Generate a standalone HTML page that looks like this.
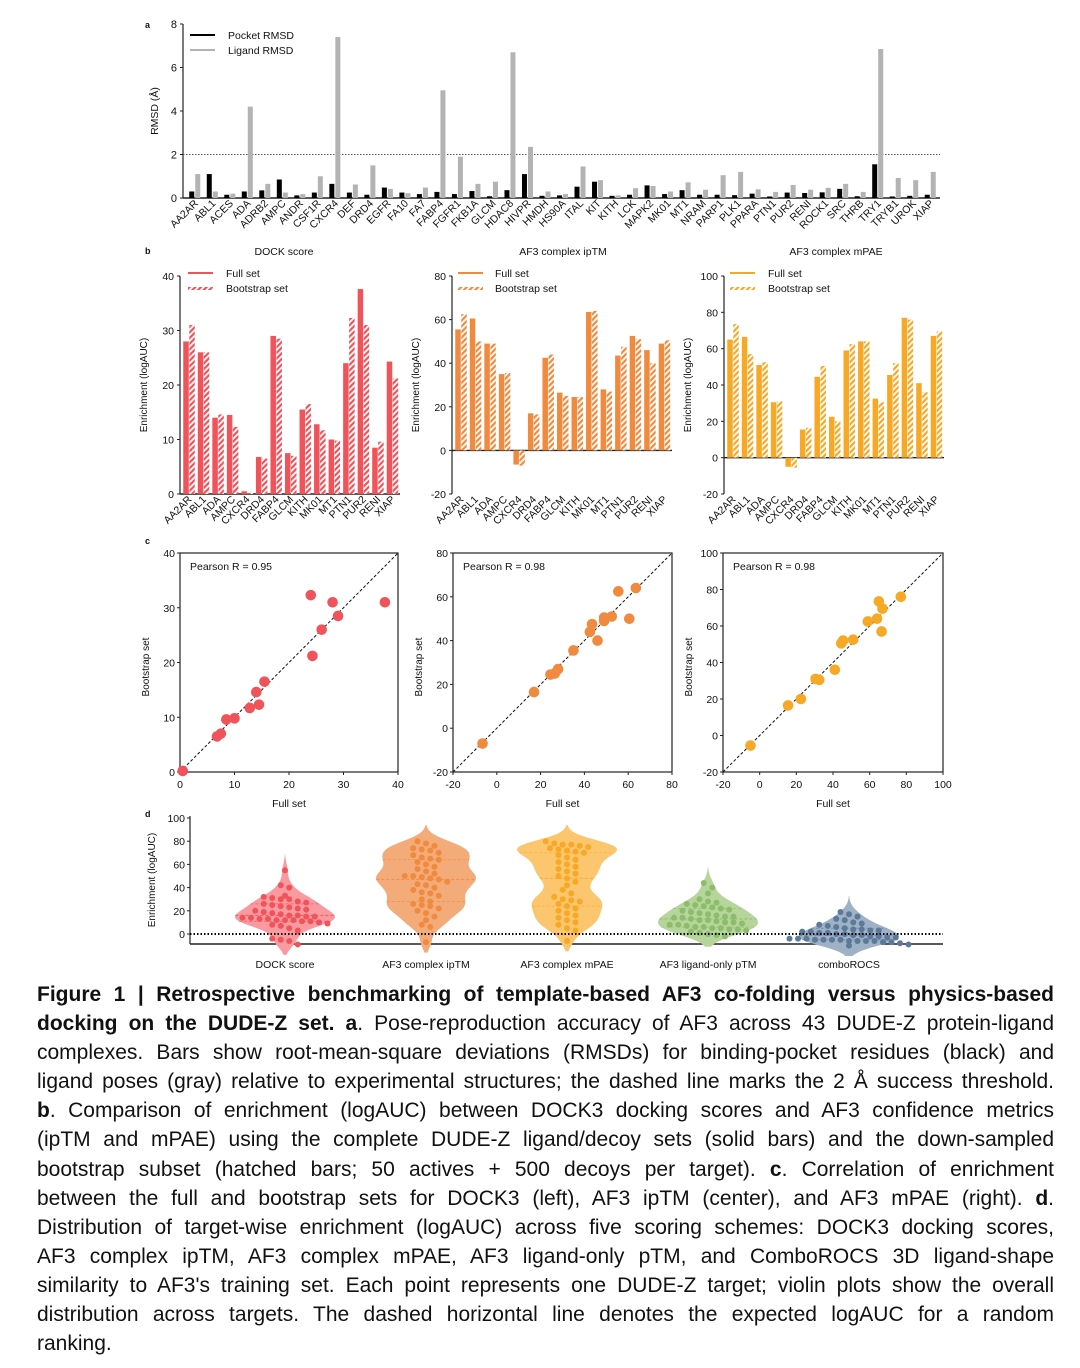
<!DOCTYPE html>
<html><head><meta charset="utf-8">
<style>
html,body{margin:0;padding:0;background:#fff;}
body{width:1080px;height:1368px;position:relative;overflow:hidden;font-family:"Liberation Sans",Arial,sans-serif;}
#fig{position:absolute;left:0;top:0;}
#cap{position:absolute;left:37px;top:980px;width:1017px;font-size:21px;line-height:29.1px;color:#111;}
#cap div{white-space:nowrap;text-align:justify;text-align-last:justify;}
#cap div.last{text-align-last:left;}
svg text{font-family:"Liberation Sans",Arial,sans-serif;fill:#111;}
</style></head>
<body>
<svg id="fig" width="1080" height="980">
<defs>
<pattern id="hatch-red" width="4" height="4" patternUnits="userSpaceOnUse" patternTransform="rotate(45)"><rect width="4" height="4" fill="#fff"/><rect width="2.2" height="4" fill="#f0535a"/></pattern>
<pattern id="hatch-orange" width="4" height="4" patternUnits="userSpaceOnUse" patternTransform="rotate(45)"><rect width="4" height="4" fill="#fff"/><rect width="2.2" height="4" fill="#f08a3e"/></pattern>
<pattern id="hatch-amber" width="4" height="4" patternUnits="userSpaceOnUse" patternTransform="rotate(45)"><rect width="4" height="4" fill="#fff"/><rect width="2.2" height="4" fill="#f7a825"/></pattern>
</defs>
</svg>
<div id="cap">
<div><b>Figure 1 | Retrospective benchmarking of template-based AF3 co-folding versus physics-based</b></div>
<div><b>docking on the DUDE-Z set. a</b>. Pose-reproduction accuracy of AF3 across 43 DUDE-Z protein-ligand</div>
<div>complexes. Bars show root-mean-square deviations (RMSDs) for binding-pocket residues (black) and</div>
<div>ligand poses (gray) relative to experimental structures; the dashed line marks the 2 Å success threshold.</div>
<div><b>b</b>. Comparison of enrichment (logAUC) between DOCK3 docking scores and AF3 confidence metrics</div>
<div>(ipTM and mPAE) using the complete DUDE-Z ligand/decoy sets (solid bars) and the down-sampled</div>
<div>bootstrap subset (hatched bars; 50 actives + 500 decoys per target). <b>c</b>. Correlation of enrichment</div>
<div>between the full and bootstrap sets for DOCK3 (left), AF3 ipTM (center), and AF3 mPAE (right). <b>d</b>.</div>
<div>Distribution of target-wise enrichment (logAUC) across five scoring schemes: DOCK3 docking scores,</div>
<div>AF3 complex ipTM, AF3 complex mPAE, AF3 ligand-only pTM, and ComboROCS 3D ligand-shape</div>
<div>similarity to AF3's training set. Each point represents one DUDE-Z target; violin plots show the overall</div>
<div>distribution across targets. The dashed horizontal line denotes the expected logAUC for a random</div>
<div class="last">ranking.</div>
</div>
<script>
// ---- Panel a data ----
const rmsdTargets = ["AA2AR","ABL1","ACES","ADA","ADRB2","AMPC","ANDR","CSF1R","CXCR4","DEF","DRD4","EGFR","FA10","FA7","FABP4","FGFR1","FKB1A","GLCM","HDAC8","HIVPR","HMDH","HS90A","ITAL","KIT","KITH","LCK","MAPK2","MK01","MT1","NRAM","PARP1","PLK1","PPARA","PTN1","PUR2","RENI","ROCK1","SRC","THRB","TRY1","TRYB1","UROK","XIAP"];
const pocketRmsd = [0.3,1.1,0.15,0.3,0.35,0.85,0.12,0.25,0.65,0.25,0.15,0.48,0.25,0.18,0.28,0.18,0.32,0.08,0.36,1.1,0.1,0.12,0.52,0.75,0.1,0.15,0.58,0.18,0.36,0.15,0.15,0.13,0.2,0.07,0.25,0.23,0.26,0.42,0.08,1.55,0.07,0.1,0.15];
const ligandRmsd = [1.1,0.3,0.2,4.2,0.65,0.25,0.18,1.0,7.4,0.62,1.5,0.42,0.22,0.48,4.95,1.9,0.65,0.75,6.7,2.35,0.3,0.18,1.45,0.82,0.12,0.45,0.55,0.3,0.72,0.38,1.05,1.2,0.4,0.28,0.6,0.38,0.47,0.65,0.28,6.85,0.92,0.82,1.2];
const rmsdTicks = [0,2,4,6,8];
// ---- Panel b/c data ----
const enrTargets = ["AA2AR","ABL1","ADA","AMPC","CXCR4","DRD4","FABP4","GLCM","KITH","MK01","MT1","PTN1","PUR2","RENI","XIAP"];
const dockFull = [28,26,14,14.5,0.5,6.8,29,7.5,15.5,12.8,10,24,37.6,8.5,24.3];
const dockBoot = [31,26,14.6,12.3,0.2,6.5,28.5,7,16.5,11.7,9.8,32.3,31,9.6,21.2];
const iptmFull = [55.5,60.5,49,35,-6.5,17,42.5,26.5,24.5,63.5,28,43.5,52.5,46,49];
const iptmBoot = [62.5,50,49,35.5,-7,16.5,44,25,24.5,64,27,47.5,51,40,50.5];
const mpaeFull = [65,66.5,51,30.5,-5,15.5,44.5,22.5,59,64,32.5,45.5,77,41,67];
const mpaeBoot = [73.5,57,52.5,31,-5.5,16.5,50.5,20,62.5,64,30.5,52,76,36,69.5];
const dockTicks = [0,10,20,30,40];
const iptmTicks = [-20,0,20,40,60,80];
const mpaeTicks = [-20,0,20,40,60,80,100];
const pearsonLabels = ["Pearson R = 0.95","Pearson R = 0.98","Pearson R = 0.98"];
// ---- Panel d data ----
const violinGroups = ["DOCK score","AF3 complex ipTM","AF3 complex mPAE","AF3 ligand-only pTM","comboROCS"];
const dockDist = [55,42,40,33,32,31,30,30,28,27,26,25,24,23,22,21,20,19,18,17,16,16,15,15,14,14,13,13,12,12,12,11,11,10,9,8,7,5,3,-4,-5,-6,-9];
const iptmDist = [80,78,76,74,73,72,70,68,66,65,64,62,60,58,56,54,52,50,50,49,48,47,45,43,42,40,38,36,35,33,30,28,26,25,24,22,20,18,15,12,8,6,-7];
const mpaeDist = [80,78,77,77,76,75,74,73,72,71,70,68,66,64,62,60,58,56,54,52,50,48,45,42,38,35,32,30,29,28,26,24,22,20,18,16,14,12,10,8,5,3,-6];
const ptmDist = [44,40,35,30,28,27,26,25,24,23,22,21,20,19,18,17,16,15,15,14,14,13,12,12,11,10,10,9,8,8,7,6,6,5,5,4,4,3,2,1,0,-1,-2];
const rocsDist = [19,17,15,13,12,10,9,8,7,6,5,4,4,3,3,2,2,1,1,0,0,-1,-1,-2,-2,-3,-3,-4,-4,-4,-5,-5,-5,-5,-6,-6,-6,-6,-7,-7,-8,-9,-10];
const violinTicks = [0,20,40,60,80,100];

const svg = document.getElementById('fig');
const NS = 'http://www.w3.org/2000/svg';
function mk(tag, attrs, parent, text){
  const e = document.createElementNS(NS, tag);
  for (const k in attrs) e.setAttribute(k, attrs[k]);
  if (text !== undefined) e.textContent = text;
  (parent || svg).appendChild(e);
  return e;
}
function lin(d0,d1,r0,r1){ return v => r0 + (v-d0)/(d1-d0)*(r1-r0); }

[["a",145,28],["b",145,254],["c",145,544],["d",145,817]].forEach(p=>{
  const t = mk('text',{x:p[1],y:p[2],'font-size':9,'font-weight':'bold'},svg,p[0]);
  
  
});

// ===== Panel a =====
(function(){
  const g = mk('g',{});
  
  
  const x0 = 183, x1 = 940;
  const y = lin(0,8,198,24);
  const step = (x1 - x0 - 4) / rmsdTargets.length;
  mk('line',{x1:x0,y1:24,x2:x0,y2:198,stroke:'#222','stroke-width':1.2},g);
  mk('line',{x1:x0,y1:198,x2:x1,y2:198,stroke:'#222','stroke-width':1.4},g);
  rmsdTicks.forEach(t=>{
    mk('line',{x1:x0-3,y1:y(t),x2:x0,y2:y(t),stroke:'#222'},g);
    const tl = mk('text',{x:x0-6,y:y(t)+4,'font-size':11,'text-anchor':'end'},g,t);
    
    
  });
  const yt = mk('text',{x:158,y:111,'font-size':10.5,'text-anchor':'middle',transform:'rotate(-90 158 111)'},g,'RMSD (Å)');
  
  
  const thr = mk('line',{x1:x0,y1:y(2),x2:x1,y2:y(2),stroke:'#555','stroke-width':1,'stroke-dasharray':'1.5,1.5'},g);
  
  
  rmsdTargets.forEach((c,i)=>{
    const cx = x0 + 3 + step*(i+0.5);
    const b1 = mk('rect',{x:cx-5.5,y:y(pocketRmsd[i]),width:5,height:198-y(pocketRmsd[i]),fill:'#000'},g);
    
    
    const b2 = mk('rect',{x:cx+0.5,y:y(ligandRmsd[i]),width:5,height:198-y(ligandRmsd[i]),fill:'#b3b3b3'},g);
    
    
    const lx = cx+4, ly = 204;
    const l = mk('text',{x:lx,y:ly,'font-size':10.5,'text-anchor':'end',transform:`rotate(-45 ${lx} ${ly})`},g,c);
    
    
  });
  mk('line',{x1:190,y1:35,x2:215,y2:35,stroke:'#000','stroke-width':2},g);
  const l1 = mk('text',{x:228,y:39,'font-size':10.5},g,'Pocket RMSD');
  
  
  mk('line',{x1:190,y1:50,x2:215,y2:50,stroke:'#b3b3b3','stroke-width':2},g);
  const l2 = mk('text',{x:228,y:54,'font-size':10.5},g,'Ligand RMSD');
  
  
})();

// ===== Panel b =====
const panelsB = [
  {key:'dock',title:'DOCK score',tx:284,x0:180,x1:400,min:0,max:40,ticks:dockTicks,full:dockFull,boot:dockBoot,col:'#f0535a',hatch:'url(#hatch-red)',lx:188,ltx:226},
  {key:'iptm',title:'AF3 complex ipTM',tx:563,x0:452,x1:672,min:-20,max:80,ticks:iptmTicks,full:iptmFull,boot:iptmBoot,col:'#f08a3e',hatch:'url(#hatch-orange)',lx:458,ltx:495},
  {key:'mpae',title:'AF3 complex mPAE',tx:836,x0:724,x1:944,min:-20,max:100,ticks:mpaeTicks,full:mpaeFull,boot:mpaeBoot,col:'#f7a825',hatch:'url(#hatch-amber)',lx:730,ltx:768}
];
panelsB.forEach(p=>{
  const g = mk('g',{});
  
  
  const yT = 276, yB = 494;
  const y = lin(p.min,p.max,yB,yT);
  const t = mk('text',{x:p.tx,y:255,'font-size':10.5,'text-anchor':'middle'},g,p.title);
  
  
  mk('line',{x1:p.x0,y1:yT,x2:p.x0,y2:yB,stroke:'#222','stroke-width':1.2},g);
  mk('line',{x1:p.x0,y1:y(0),x2:p.x1,y2:y(0),stroke:'#222','stroke-width':1.4},g);
  p.ticks.forEach(v=>{
    mk('line',{x1:p.x0-3,y1:y(v),x2:p.x0,y2:y(v),stroke:'#222'},g);
    const tl = mk('text',{x:p.x0-6,y:y(v)+4,'font-size':10.5,'text-anchor':'end'},g,v);
    
    
  });
  const ax = p.x0-33, ay = 385;
  const yt = mk('text',{x:ax,y:ay,'font-size':10,'text-anchor':'middle',transform:`rotate(-90 ${ax} ${ay})`},g,'Enrichment (logAUC)');
  
  
  const step = (p.x1 - p.x0 - 2)/enrTargets.length;
  enrTargets.forEach((c,i)=>{
    const cx = p.x0 + 2 + step*(i+0.5);
    const f = p.full[i], b = p.boot[i];
    const r1 = mk('rect',{x:cx-6,y:Math.min(y(f),y(0)),width:5.5,height:Math.abs(y(f)-y(0)),fill:p.col},g);
    
    
    const r2 = mk('rect',{x:cx,y:Math.min(y(b),y(0)),width:5.5,height:Math.abs(y(b)-y(0)),fill:p.hatch},g);
    
    
    const lx = cx+3, ly = 500;
    const l = mk('text',{x:lx,y:ly,'font-size':10.5,'text-anchor':'end',transform:`rotate(-45 ${lx} ${ly})`},g,c);
    
    
  });
  mk('line',{x1:p.lx,y1:273,x2:p.lx+25,y2:273,stroke:p.col,'stroke-width':2},g);
  const lg1 = mk('text',{x:p.ltx,y:277,'font-size':10.5},g,'Full set');
  
  
  mk('rect',{x:p.lx,y:287,width:25,height:3,fill:p.hatch},g);
  const lg2 = mk('text',{x:p.ltx,y:292,'font-size':10.5},g,'Bootstrap set');
  
  
});

// ===== Panel c =====
const panelsC = [
  {key:'dock',x0:180,x1:398,min:0,max:40,ticks:dockTicks,full:dockFull,boot:dockBoot,col:'#f0535a',label:pearsonLabels[0]},
  {key:'iptm',x0:453,x1:672,min:-20,max:80,ticks:iptmTicks,full:iptmFull,boot:iptmBoot,col:'#f08a3e',label:pearsonLabels[1]},
  {key:'mpae',x0:723,x1:943,min:-20,max:100,ticks:mpaeTicks,full:mpaeFull,boot:mpaeBoot,col:'#f7a825',label:pearsonLabels[2]}
];
panelsC.forEach(p=>{
  const g = mk('g',{});
  
  
  const yT = 553, yB = 772;
  const x = lin(p.min,p.max,p.x0,p.x1), y = lin(p.min,p.max,yB,yT);
  mk('rect',{x:p.x0,y:yT,width:p.x1-p.x0,height:yB-yT,fill:'none',stroke:'#222','stroke-width':1.2},g);
  p.ticks.forEach(v=>{
    mk('line',{x1:p.x0-3,y1:y(v),x2:p.x0,y2:y(v),stroke:'#222'},g);
    const tl = mk('text',{x:p.x0-5,y:y(v)+4,'font-size':10.5,'text-anchor':'end'},g,v);
    
    
    mk('line',{x1:x(v),y1:yB,x2:x(v),y2:yB+3,stroke:'#222'},g);
    const xl = mk('text',{x:x(v),y:yB+16,'font-size':10.5,'text-anchor':'middle'},g,v);
    
    
  });
  const diag = mk('line',{x1:x(p.min),y1:y(p.min),x2:x(p.max),y2:y(p.max),stroke:'#111','stroke-width':1,'stroke-dasharray':'3,2'},g);
  
  
  p.full.forEach((f,i)=>{
    const c = mk('circle',{cx:x(f),cy:y(p.boot[i]),r:5.3,fill:p.col},g);
    
    
  });
  const pl = mk('text',{x:p.x0+10,y:570,'font-size':10.5},g,p.label);
  
  
  const xt = mk('text',{x:(p.x0+p.x1)/2,y:807,'font-size':10.5,'text-anchor':'middle'},g,'Full set');
  
  
  const ax = p.x0-31, ay = 667;
  const yt = mk('text',{x:ax,y:ay,'font-size':10,'text-anchor':'middle',transform:`rotate(-90 ${ax} ${ay})`},g,'Bootstrap set');
  
  
});

// ===== Panel d =====
(function(){
  const g = mk('g',{});
  
  
  const x0 = 190, x1 = 943, yBot = 944;
  const y = lin(0,100,934,818);
  mk('line',{x1:x0,y1:816,x2:x0,y2:yBot,stroke:'#222','stroke-width':1.2},g);
  mk('line',{x1:x0,y1:yBot,x2:x1,y2:yBot,stroke:'#222','stroke-width':1.4},g);
  violinTicks.forEach(v=>{
    mk('line',{x1:x0-3,y1:y(v),x2:x0,y2:y(v),stroke:'#222'},g);
    const tl = mk('text',{x:x0-5,y:y(v)+4,'font-size':10.5,'text-anchor':'end'},g,v);
    
    
  });
  const yt = mk('text',{x:155,y:880,'font-size':10,'text-anchor':'middle',transform:'rotate(-90 155 880)'},g,'Enrichment (logAUC)');
  
  
  const dists = [dockDist,iptmDist,mpaeDist,ptmDist,rocsDist];
  const fills = ['#f89aa0','#f4ab7a','#fbc66e','#b6d59b','#9fb1c5'];
  const dots = ['#f0535a','#f08a3e','#f7a825','#8cbc6c','#5b7a9a'];
  const keys = ['dock','iptm','mpae','ptm','rocs'];
  const centers = [285,426,567,708,849];
  const bw = 6;
  dists.forEach((d,gi)=>{
    const cx = centers[gi];
    const lo = Math.min(...d)-9, hi = Math.max(...d)+14;
    const vs = [];
    for (let v=lo; v<=hi; v+=1) vs.push(v);
    const dens = vs.map(v=>d.reduce((s,u)=>s+Math.exp(-0.5*((v-u)/bw)**2),0));
    const mx = Math.max(...dens);
    const w = dens.map(q=>q/mx*50);
    let path = '';
    vs.forEach((v,i)=>{ path += (i?'L':'M') + (cx+w[i]).toFixed(1)+','+y(v).toFixed(1); });
    for (let i=vs.length-1;i>=0;i--) path += 'L'+(cx-w[i]).toFixed(1)+','+y(vs[i]).toFixed(1);
    path += 'Z';
    const vp = mk('path',{d:path,fill:fills[gi],stroke:'none'},g);
    
    
    const s = [...d].sort((a,b)=>a-b);
    [0.25,0.5,0.75].forEach(q=>{
      const qv = s[Math.round(q*(s.length-1))];
      const k = Math.max(0,Math.min(vs.length-1,Math.round(qv-lo)));
      mk('line',{x1:cx-w[k],y1:y(qv),x2:cx+w[k],y2:y(qv),stroke:dots[gi],'stroke-width':q===0.5?1.2:0.7,'stroke-dasharray':'3,2',opacity:0.8},g);
    });
    const bins = {};
    d.forEach(v=>{ const b = Math.round(v/6); (bins[b] = bins[b] || []).push(v); });
    Object.keys(bins).forEach(b=>{
      const arr = bins[b];
      arr.forEach((v,j)=>{
        const off = (j - (arr.length-1)/2) * 8.5;
        const c = mk('circle',{cx:cx+off,cy:y(v),r:3,fill:dots[gi]},g);
        
        
      });
    });
    const gl = mk('text',{x:cx,y:968,'font-size':10.5,'text-anchor':'middle'},g,violinGroups[gi]);
    
    
  });
  const zl = mk('line',{x1:x0,y1:y(0),x2:x1,y2:y(0),stroke:'#000','stroke-width':2,'stroke-dasharray':'1.5,2'},g);
  
  
})();
</script>
</body></html>
